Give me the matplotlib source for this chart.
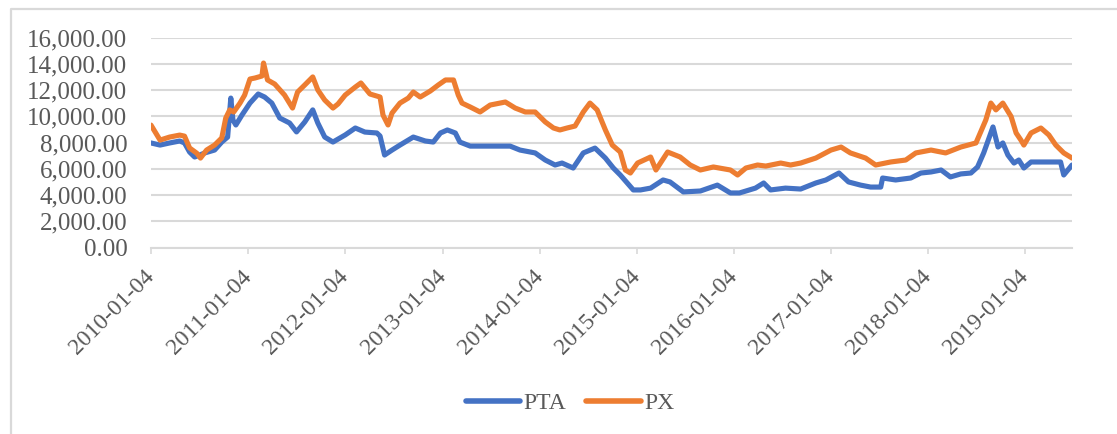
import matplotlib
matplotlib.use("Agg")
import matplotlib.pyplot as plt
import matplotlib.dates as mdates
from matplotlib.ticker import FuncFormatter, FixedLocator
from matplotlib.lines import Line2D
import pandas as pd

# ---------------- data ----------------
pta_dates = [
    "2010-01-04", "2010-02-07", "2010-03-15", "2010-04-22", "2010-05-10", "2010-05-29",
    "2010-06-17", "2010-07-06", "2010-07-25", "2010-08-31", "2010-09-27", "2010-10-19",
    "2010-10-31", "2010-11-08", "2010-11-19", "2010-12-12", "2011-01-11", "2011-02-11",
    "2011-03-07", "2011-04-03", "2011-05-03", "2011-06-09", "2011-07-05", "2011-08-05",
    "2011-09-04", "2011-09-23", "2011-10-19", "2011-11-19", "2012-01-04", "2012-02-11",
    "2012-03-18", "2012-05-02", "2012-05-14", "2012-05-31", "2012-06-28", "2012-07-28",
    "2012-09-16", "2012-10-31", "2012-11-30", "2012-12-27", "2013-01-22", "2013-02-21",
    "2013-03-10", "2013-04-18", "2013-06-12", "2013-08-08", "2013-09-15", "2013-10-22",
    "2013-12-18", "2014-01-25", "2014-03-03", "2014-03-29", "2014-05-10", "2014-06-17",
    "2014-07-31", "2014-09-08", "2014-10-08", "2014-11-03", "2014-12-22", "2015-01-18",
    "2015-02-25", "2015-04-13", "2015-05-09", "2015-06-28", "2015-08-31", "2015-11-03",
    "2015-12-22", "2016-01-25", "2016-03-25", "2016-04-25", "2016-05-21", "2016-07-16",
    "2016-09-11", "2016-11-07", "2016-12-15", "2017-02-02", "2017-03-10", "2017-04-24",
    "2017-06-01", "2017-07-09", "2017-07-16", "2017-09-03", "2017-10-30", "2017-12-07",
    "2018-01-14", "2018-02-21", "2018-03-28", "2018-05-06", "2018-06-13", "2018-07-08",
    "2018-07-31", "2018-09-04", "2018-09-23", "2018-10-11", "2018-10-30", "2018-11-22",
    "2018-12-10", "2018-12-29", "2019-01-25", "2019-03-03", "2019-04-09", "2019-05-16",
    "2019-05-28", "2019-06-28",
]
pta_values = [
    7980, 7820, 7980, 8130, 7980, 7290,
    6910, 7060, 7220, 7440, 8050, 8430,
    11400, 9730, 9350, 10110, 11020, 11710,
    11480, 11020, 9880, 9500, 8820, 9580,
    10500, 9500, 8430, 8050, 8590, 9120,
    8810, 8740, 8510, 7060, 7440, 7820,
    8430, 8130, 8050, 8740, 8970, 8740,
    8050, 7740, 7740, 7740, 7740, 7440,
    7220, 6680, 6300, 6450, 6070, 7220,
    7590, 6830, 6070, 5540, 4400, 4400,
    4540, 5160, 5010, 4250, 4320, 4770,
    4170, 4170, 4540, 4930, 4400, 4540,
    4470, 4930, 5160, 5690, 5010, 4770,
    4620, 4620, 5310, 5160, 5310, 5690,
    5770, 5920, 5390, 5620, 5690, 6150,
    7220, 9200, 7670, 7980, 7060, 6450,
    6680, 6070, 6530, 6530, 6530, 6530,
    5540, 6300,
]

px_dates = [
    "2010-01-04", "2010-02-07", "2010-03-15", "2010-04-22", "2010-05-10", "2010-05-29",
    "2010-06-25", "2010-07-09", "2010-08-01", "2010-08-31", "2010-09-27", "2010-10-12",
    "2010-10-27", "2010-11-11", "2010-12-04", "2010-12-22", "2011-01-11", "2011-01-30",
    "2011-02-25", "2011-03-03", "2011-03-18", "2011-04-14", "2011-05-21", "2011-06-20",
    "2011-07-09", "2011-08-05", "2011-09-04", "2011-09-23", "2011-10-19", "2011-11-19",
    "2011-12-08", "2012-01-04", "2012-02-11", "2012-03-03", "2012-04-06", "2012-05-14",
    "2012-05-25", "2012-06-13", "2012-06-28", "2012-07-28", "2012-08-28", "2012-09-16",
    "2012-10-12", "2012-11-19", "2012-12-19", "2013-01-15", "2013-02-14", "2013-03-04",
    "2013-03-18", "2013-04-18", "2013-05-25", "2013-07-02", "2013-08-28", "2013-10-04",
    "2013-11-11", "2013-12-18", "2014-01-25", "2014-02-25", "2014-03-21", "2014-04-17",
    "2014-05-17", "2014-06-17", "2014-07-12", "2014-08-08", "2014-09-08", "2014-10-04",
    "2014-11-03", "2014-11-22", "2014-12-11", "2015-01-07", "2015-02-25", "2015-03-17",
    "2015-04-30", "2015-06-16", "2015-07-24", "2015-08-31", "2015-10-19", "2015-12-22",
    "2016-01-18", "2016-02-18", "2016-04-02", "2016-05-03", "2016-06-28", "2016-08-04",
    "2016-09-11", "2016-11-07", "2017-01-03", "2017-02-10", "2017-03-17", "2017-05-13",
    "2017-06-20", "2017-08-15", "2017-10-11", "2017-11-18", "2018-01-14", "2018-03-10",
    "2018-05-06", "2018-07-02", "2018-08-08", "2018-08-27", "2018-09-15", "2018-10-11",
    "2018-11-11", "2018-11-30", "2018-12-18", "2018-12-29", "2019-01-25", "2019-03-03",
    "2019-04-02", "2019-04-28", "2019-05-28", "2019-06-28",
]
px_values = [
    9340, 8200, 8430, 8580, 8500, 7600,
    7200, 6830, 7440, 7820, 8360, 9880,
    10500, 10340, 11000, 11630, 12850, 12930,
    13080, 14070, 12780, 12470, 11630, 10640,
    11860, 12400, 13010, 12020, 11250, 10640,
    10950, 11630, 12240, 12550, 11710, 11480,
    10110, 9350, 10260, 11020, 11400, 11860,
    11480, 11940, 12400, 12780, 12780, 11630,
    11020, 10720, 10340, 10870, 11100, 10640,
    10340, 10340, 9580, 9120, 8970, 9120,
    9270, 10340, 11020, 10500, 8970, 7820,
    7290, 5920, 5690, 6450, 6910, 5920,
    7290, 6910, 6300, 5920, 6150, 5920,
    5540, 6070, 6300, 6220, 6450, 6300,
    6450, 6830, 7440, 7670, 7220, 6830,
    6300, 6530, 6680, 7220, 7440, 7220,
    7670, 7980, 9730, 11020, 10500, 11020,
    10000, 8740, 8200, 7820, 8740, 9120,
    8590, 7820, 7220, 6830,
]

series_names = ["PTA", "PX"]
series_colors = ["#4472C4", "#ED7D31"]
tick_start = "2010-01-04"
tick_years = list(range(2010, 2020))
y_ticks = [0, 2000, 4000, 6000, 8000, 10000, 12000, 14000, 16000]

# ---------------- figure ----------------
W, H = 1117, 434
fig = plt.figure(figsize=(W / 100, H / 100), dpi=100)
ax = fig.add_axes([151 / W, 1 - 247.7 / H, (1072 - 151) / W, (247.7 - 37.7) / H])

font = "Liberation Serif"
txt_color = "#595959"
grid_color = "#D9D9D9"

for dates, vals, name, col in [(pta_dates, pta_values, series_names[0], series_colors[0]),
                               (px_dates, px_values, series_names[1], series_colors[1])]:
    ax.plot(pd.to_datetime(dates), vals, color=col, lw=3.7, label=name,
            solid_joinstyle="round", solid_capstyle="round")

ax.set_ylim(0, 16000)
ax.set_xlim(pd.Timestamp(tick_start), pd.Timestamp(pta_dates[-1]))
ax.set_yticks(y_ticks)
ax.yaxis.set_major_formatter(FuncFormatter(lambda v, p: f"{v:,.2f}"))
ax.grid(axis="y", color=grid_color, lw=1.5)
ax.set_axisbelow(True)

tick_dates = [pd.Timestamp(f"{y}-01-04") for y in tick_years]
ax.xaxis.set_major_locator(FixedLocator(mdates.date2num(tick_dates)))
ax.set_xticklabels([d.strftime("%Y-%m-%d") for d in tick_dates])

for s in ["top", "right", "left"]:
    ax.spines[s].set_visible(False)
ax.spines["bottom"].set_color(grid_color)
ax.spines["bottom"].set_linewidth(1.5)

ax.tick_params(axis="y", length=0, pad=17, labelsize=18, labelcolor=txt_color)
ax.tick_params(axis="x", length=4.5, width=1.2, color=grid_color, pad=14,
               labelsize=17, labelcolor=txt_color)
for lab in ax.get_yticklabels():
    lab.set_fontfamily(font)
for lab in ax.get_xticklabels():
    lab.set_fontfamily(font)
    lab.set_rotation(45)
    lab.set_ha("right")
    lab.set_va("center")
    lab.set_rotation_mode("anchor")

leg = fig.legend(loc="center", bbox_to_anchor=(570 / W, 1 - 403 / H), ncol=2, frameon=False,
                 prop={"family": font, "size": 17}, handlelength=2.3, handletextpad=0.15,
                 columnspacing=0.85)
for t in leg.get_texts():
    t.set_color(txt_color)
for h in leg.legend_handles:
    h.set_linewidth(4)

# outer chart border (left and top visible)
fig.add_artist(Line2D([11 / W, 11 / W, 1.0], [0.0, 1 - 9 / H, 1 - 9 / H],
                      transform=fig.transFigure, color=grid_color, lw=1.6))

fig.savefig("out.png", dpi=100)
